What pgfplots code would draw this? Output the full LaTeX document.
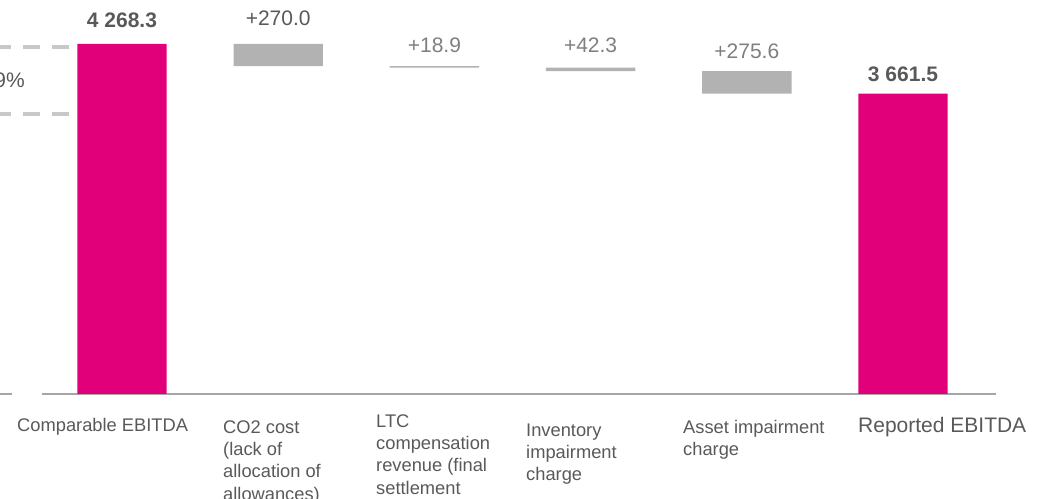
\documentclass[border=0pt]{standalone}
\usepackage{pgfplots}
\pgfplotsset{compat=1.18}
\usepackage{fontspec}
\setmainfont{Liberation Sans}
\definecolor{mag}{HTML}{E2007A}
\definecolor{barg}{HTML}{B2B2B2}
\definecolor{dg}{HTML}{595959}
\definecolor{mg}{HTML}{7F7F7F}
\definecolor{dashg}{HTML}{C8C8C8}
\definecolor{axg}{HTML}{A6A6A6}
\pgfplotsset{
  wfaxis/.style={
    at={(42bp,105bp)}, anchor=south west,
    scale only axis, width=954bp, height=394bp,
    xmin=-0.5122, xmax=5.5954, ymin=0, ymax=4805,
    hide axis, clip=false,
  }
}
\begin{document}
\begin{tikzpicture}[x=1bp,y=1bp]
\useasboundingbox (0,0) rectangle (1041,499);
\clip (0,0) rectangle (1041,499);
% bars
\begin{axis}[wfaxis, ybar stacked, bar width=89.4bp]
% invisible base of the floating bars
\addplot[fill=none, draw=none] coordinates {(0,0) (1,3998.3) (2,3979.4) (3,3937.1) (4,3661.5) (5,0)};
% changes
\addplot[fill=barg, draw=none] coordinates {(0,0) (1,270.0) (2,18.9) (3,42.3) (4,275.6) (5,0)};
% totals
\addplot[fill=mag, draw=none] coordinates {(0,4268.3) (1,0) (2,0) (3,0) (4,0) (5,3661.5)};
\draw[axg, line width=1.5bp] (axis cs:-0.5122,0) -- (axis cs:5.5954,0);
\end{axis}
% value labels at the top of each bar
\begin{axis}[wfaxis, point meta=explicit symbolic,
  every node near coord/.append style={anchor=base, inner sep=0pt, yshift=14bp}]
\addplot[draw=none, mark=none, nodes near coords,
  every node near coord/.append style={text=mg, font=\fontsize{21bp}{25bp}\selectfont}]
  coordinates {(1,4268.3) [\raisebox{4bp}{\textcolor{dg}{+270.0}}] (2,3998.3) [\raisebox{-0.5bp}{+18.9}] (3,3979.4) [\raisebox{1bp}{+42.3}] (4,3937.1) [\raisebox{-1bp}{+275.6}]};
\addplot[draw=none, mark=none, nodes near coords,
  every node near coord/.append style={text=dg, font=\fontsize{21bp}{25bp}\selectfont\bfseries}]
  coordinates {(0,4268.3) [\raisebox{2bp}{4 268.3}] (5,3661.5) [\raisebox{-1.5bp}{3 661.5}]};
\end{axis}
\draw[axg, line width=1.5bp] (0,105) -- (12,105);
\draw[dashg, line width=4bp, dash pattern=on 17bp off 12bp] (69,452) -- (0,452);
\draw[dashg, line width=4bp, dash pattern=on 17bp off 12bp] (69,385) -- (0,385);
\node[anchor=base east, inner sep=0pt, text=dg, font=\fontsize{21bp}{25bp}\selectfont] at (25,411) {9\%};
\begin{scope}[every node/.style={inner sep=0pt, text=dg, font=\fontsize{18.3bp}{22.3bp}\selectfont}]
\node[anchor=base west] at (17,67) {Comparable EBITDA};
\node[anchor=north west, align=left] at (223,81.6) {\strut CO2 cost\\(lack of\\allocation of\\allowances)};
\node[anchor=north west, align=left] at (376,87.6) {\strut LTC\\compensation\\revenue (final\\settlement};
\node[anchor=north west, align=left] at (526,78.6) {\strut Inventory\\impairment\\charge};
\node[anchor=north west, align=left] at (683,81.6) {\strut Asset impairment\\charge};
\node[anchor=base west, font=\fontsize{21bp}{25bp}\selectfont] at (858,66) {Reported EBITDA};
\end{scope}
\end{tikzpicture}
\end{document}
